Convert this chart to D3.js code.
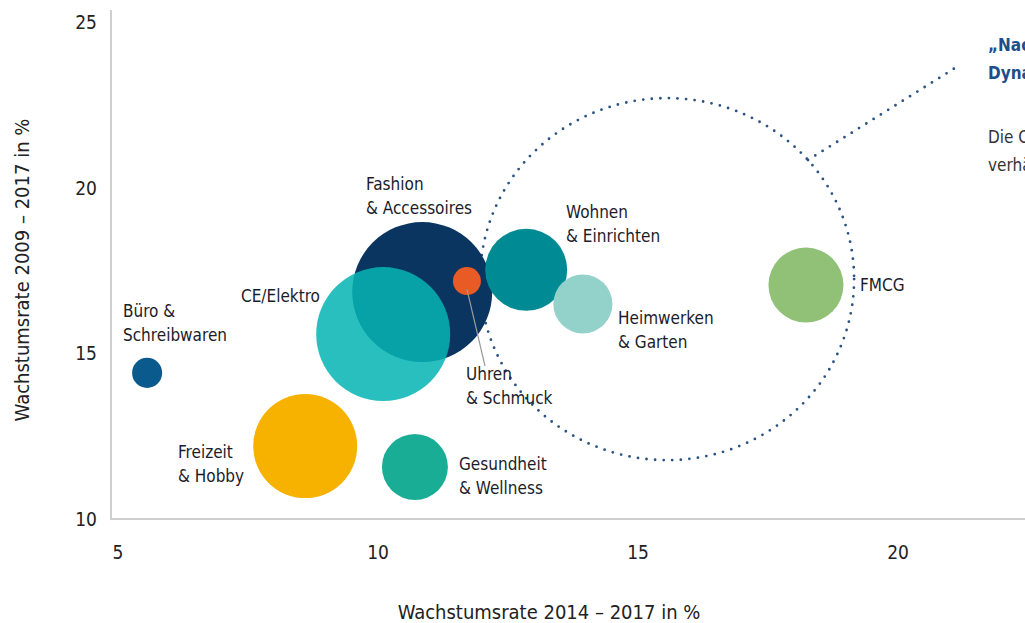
<!DOCTYPE html>
<html>
<head>
<meta charset="utf-8">
<script src="https://cdn.jsdelivr.net/npm/d3@7"></script>
<style>
  body { margin: 0; background: #fff; }
  svg { display: block; font-family: "Liberation Sans Narrow", "DejaVu Sans Condensed", "Roboto", sans-serif; }
</style>
</head>
<body>
<div id="container"></div>
<script>
// Daten
let labels = [
    ["Büro &", "Schreibwaren"],
    ["Freizeit", "& Hobby"],
    ["Gesundheit", "& Wellness"],
    ["CE/Elektro"],
    ["Fashion", "& Accessoires"],
    ["Uhren", "& Schmuck"],
    ["Wohnen", "& Einrichten"],
    ["Heimwerken", "& Garten"],
    ["FMCG"]
];
let growth1417 = [5.56, 8.60, 10.71, 10.10, 10.85, 11.71, 12.85, 13.94, 18.23];
let growth0917 = [14.41, 12.20, 11.57, 15.58, 16.85, 17.18, 17.52, 16.49, 17.06];
let sizes = [4.6, 55.2, 22.2, 91.6, 100, 4.0, 34.3, 17.8, 28.7];
let colors = ["#0b5a8d", "#f7b200", "#19ad96", "#06b5b3", "#0a3560", "#e85b24", "#008b94", "#93d1cb", "#90c177"];
let xTicks = [5, 10, 15, 20];
let yTicks = [10, 15, 20, 25];

let width = 1025, height = 623;
let svg = d3.select("#container")
    .append("svg")
    .attr("width", width)
    .attr("height", height);

// Skalen
let xScale = d3.scaleLinear().domain([5, 20]).range([118, 898]);
let yScale = d3.scaleLinear().domain([10, 25]).range([519, 22]);
let rScale = d3.scaleSqrt().domain([0, 100]).range([0, 70]);

// Achsenlinien
svg.append("path")
    .attr("d", "M111,10 V519 H1025")
    .attr("fill", "none")
    .attr("stroke", "#cfcfcf")
    .attr("stroke-width", 2);

// Tick-Beschriftungen
svg.append("g").selectAll("text")
    .data(xTicks)
    .enter()
    .append("text")
    .attr("x", d => xScale(d))
    .attr("y", 559)
    .attr("text-anchor", "middle")
    .attr("font-size", 19)
    .attr("fill", "#222")
    .text(d => d);

svg.append("g").selectAll("text")
    .data(yTicks)
    .enter()
    .append("text")
    .attr("x", 97)
    .attr("y", d => yScale(d) + 7)
    .attr("text-anchor", "end")
    .attr("font-size", 19)
    .attr("fill", "#222")
    .text(d => d);

// Achsentitel
svg.append("text")
    .attr("x", 549)
    .attr("y", 619)
    .attr("text-anchor", "middle")
    .attr("font-size", 20)
    .attr("fill", "#222")
    .text("Wachstumsrate 2014 – 2017 in %");

svg.append("text")
    .attr("transform", "translate(29,270) rotate(-90)")
    .attr("text-anchor", "middle")
    .attr("font-size", 20)
    .attr("fill", "#222")
    .text("Wachstumsrate 2009 – 2017 in %");

// gepunkteter Kreis
svg.append("ellipse")
    .attr("cx", xScale(15.56))
    .attr("cy", yScale(17.24))
    .attr("rx", 187)
    .attr("ry", 181)
    .attr("fill", "none")
    .attr("stroke", "#2a5282")
    .attr("stroke-width", 2.8)
    .attr("stroke-linecap", "round")
    .attr("stroke-dasharray", "0 8.6");

svg.append("line")
    .attr("x1", 808).attr("y1", 160)
    .attr("x2", 955).attr("y2", 68)
    .attr("stroke", "#2a5282")
    .attr("stroke-width", 2.8)
    .attr("stroke-linecap", "round")
    .attr("stroke-dasharray", "0 8.6");

let data = labels.map((l, i) => ({ label: l, x: growth1417[i], y: growth0917[i], s: sizes[i], c: colors[i] }));

// Blasen (Reihenfolge für Überdeckung)
let order = [4, 3, 0, 1, 2, 6, 7, 8, 5];
svg.append("g").selectAll("circle")
    .data(order.map(i => data[i]))
    .enter()
    .append("circle")
    .attr("cx", d => xScale(d.x))
    .attr("cy", d => yScale(d.y))
    .attr("r", d => rScale(d.s))
    .attr("fill", d => d.c)
    .attr("fill-opacity", d => d.label[0] == "CE/Elektro" ? 0.86 : 1);

// Verbindungslinie Uhren
svg.append("line")
    .attr("x1", xScale(growth1417[5]))
    .attr("y1", yScale(growth0917[5]) + 8)
    .attr("x2", 485)
    .attr("y2", 366)
    .attr("stroke", "#9a9a9a")
    .attr("stroke-width", 1.2);

// Beschriftungen
let labelPos = [
    [123, 317], [178, 458], [459, 470], [241, 302], [366, 190],
    [466, 380], [566, 218], [618, 324], [860, 291]
];
labels.forEach((l, i) => {
    let t = svg.append("text")
        .attr("x", labelPos[i][0])
        .attr("y", labelPos[i][1])
        .attr("font-size", 17)
        .attr("fill", "#1c1c2a");
    l.forEach((line, j) => {
        t.append("tspan")
            .attr("x", labelPos[i][0])
            .attr("dy", j == 0 ? 0 : 23.5)
            .text(line);
    });
});

// Anmerkung rechts (im Original am Bildrand abgeschnitten)
svg.append("text").attr("x", 988).attr("y", 51)
    .attr("font-size", 17).attr("font-weight", "bold").attr("fill", "#1d4e8a")
    .text("„Nachzügler mit");
svg.append("text").attr("x", 988).attr("y", 79)
    .attr("font-size", 17).attr("font-weight", "bold").attr("fill", "#1d4e8a")
    .text("Dynamik“");
svg.append("text").attr("x", 988).attr("y", 143)
    .attr("font-size", 17).attr("fill", "#333")
    .text("Die Online-Anteile");
svg.append("text").attr("x", 988).attr("y", 171)
    .attr("font-size", 17).attr("fill", "#333")
    .text("verhältnismäßig");
</script>
</body>
</html>
